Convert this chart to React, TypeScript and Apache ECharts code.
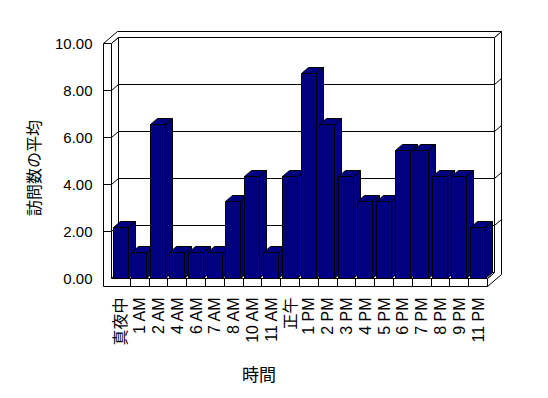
import React, { useEffect, useRef } from "react";
import * as echarts from "echarts";

const categories = [
  "真夜中", "1 AM", "2 AM", "4 AM", "6 AM", "7 AM", "8 AM", "10 AM", "11 AM", "正午",
  "1 PM", "2 PM", "3 PM", "4 PM", "5 PM", "6 PM", "7 PM", "8 PM", "9 PM", "11 PM",
];
const averageVisits = [
  2.18, 1.09, 6.55, 1.09, 1.09, 1.09, 3.27, 4.36, 1.09, 4.36,
  8.73, 6.55, 4.36, 3.27, 3.27, 5.45, 5.45, 4.36, 4.36, 2.18,
];
const yTicks = [0, 2, 4, 6, 8, 10];
const yTitle = "訪問数の平均";
const xTitle = "時間";

const DX = 7;
const DY = -6;
const WALL = 8;
const FLOOR = 8;
const BAR_COLOR = "#000080";
const FONT = "'Liberation Sans', Arial, 'Noto Sans CJK JP', sans-serif";

const s = (v: number) => Math.round(v - 0.5) + 0.5;
const sp = (pts: number[][]) => pts.map(([x, y]) => [s(x), s(y)]);

export default function App() {
  const ref = useRef<HTMLDivElement>(null);
  useEffect(() => {
    if (!ref.current) return;
    const chart = echarts.init(ref.current, null, { renderer: "svg" });
    const yMin = yTicks[0];
    const yMax = yTicks[yTicks.length - 1];
    const edge = { stroke: "#000", lineWidth: 1 };

    const frameRender = (params: any, api: any) => {
      const n = categories.length;
      const bw = api.size([1, 0])[0];
      const L = api.coord([0, yMin])[0] - bw / 2;
      const R = api.coord([n - 1, yMin])[0] + bw / 2;
      const Y0 = api.coord([0, yMin])[1];
      const Y10 = api.coord([0, yMax])[1];
      const poly = (pts: number[][], fill = "#fff") => ({
        type: "polygon",
        shape: { points: sp(pts) },
        style: { fill, ...edge },
      });
      const line = (x1: number, y1: number, x2: number, y2: number) => ({
        type: "line",
        shape: { x1: s(x1), y1: s(y1), x2: s(x2), y2: s(y2) },
        style: { ...edge, fill: null },
      });
      const children: any[] = [];
      children.push(poly([[L + DX, Y10 + DY], [R + DX, Y10 + DY], [R + DX, Y0 + DY], [L + DX, Y0 + DY]]));
      children.push(
        poly([
          [R + DX, Y10 + DY],
          [R + 2 * DX, Y10 + 2 * DY],
          [R + 2 * DX, Y0 + FLOOR + 2 * DY],
          [R, Y0 + FLOOR],
          [R, Y0],
          [R + DX, Y0 + DY],
        ])
      );
      children.push(
        poly([
          [L - WALL, Y10],
          [L - WALL + 2 * DX, Y10 + 2 * DY],
          [R + 2 * DX, Y10 + 2 * DY],
          [R + DX, Y10 + DY],
          [L + DX, Y10 + DY],
          [L, Y10],
        ])
      );
      children.push(poly([[L, Y10], [L + DX, Y10 + DY], [L + DX, Y0 + DY], [L, Y0]]));
      children.push(poly([[L, Y0], [R, Y0], [R + DX, Y0 + DY], [L + DX, Y0 + DY]]));
      children.push(
        poly([
          [L - WALL, Y10],
          [L, Y10],
          [L, Y0],
          [R, Y0],
          [R, Y0 + FLOOR],
          [L - WALL, Y0 + FLOOR],
        ])
      );
      yTicks.forEach((t) => {
        if (t === yMin || t === yMax) return;
        const y = api.coord([0, t])[1];
        children.push(line(L + DX, y + DY, R + DX, y + DY));
        children.push(line(R + DX, y + DY, R + 2 * DX, y + 2 * DY));
        children.push(line(L, y, L + DX, y + DY));
        children.push(line(L - WALL, y, L, y));
      });
      for (let i = 0; i < n - 1; i++) {
        const x = api.coord([i, yMin])[0] + bw / 2;
        children.push(line(x, Y0, x, Y0 + FLOOR));
      }
      return { type: "group", children };
    };

    const barRender = (params: any, api: any) => {
      const idx = api.value(0);
      const top = api.coord([idx, api.value(1)]);
      const base = api.coord([idx, yMin]);
      const bw = api.size([1, 0])[0];
      const x0 = top[0] - bw / 2 + bw * 0.08;
      const x1 = x0 + bw * 0.8;
      const yt = top[1];
      const yb = base[1];
      const st = { fill: BAR_COLOR, ...edge };
      return {
        type: "group",
        children: [
          { type: "polygon", shape: { points: sp([[x1, yt], [x1 + DX, yt + DY], [x1 + DX, yb + DY], [x1, yb]]) }, style: st },
          { type: "polygon", shape: { points: sp([[x0, yt], [x1, yt], [x1 + DX, yt + DY], [x0 + DX, yt + DY]]) }, style: st },
          { type: "polygon", shape: { points: sp([[x0, yt], [x1, yt], [x1, yb], [x0, yb]]) }, style: st },
        ],
      };
    };

    chart.setOption({
      animation: false,
      backgroundColor: "#fff",
      grid: { left: 111.5, right: 60.5, top: 43.5, bottom: 119.5 },
      xAxis: {
        type: "category",
        data: categories,
        axisLine: { show: false },
        axisTick: { show: false },
        splitLine: { show: false },
        axisLabel: {
          rotate: 90,
          interval: 0,
          margin: 19,
          color: "#000",
          fontSize: 16,
          fontFamily: FONT,
        },
      },
      yAxis: {
        type: "value",
        min: yMin,
        max: yMax,
        interval: 2,
        axisLine: { show: false },
        axisTick: { show: false },
        splitLine: { show: false },
        axisLabel: {
          margin: 19,
          color: "#000",
          fontSize: 15,
          fontFamily: FONT,
          formatter: (v: number) => v.toFixed(2),
        },
      },
      graphic: [
        {
          type: "text",
          x: 259,
          y: 375,
          style: { text: xTitle, fontSize: 17, fontFamily: FONT, fill: "#000", align: "center", verticalAlign: "middle" },
        },
        {
          type: "text",
          x: 34,
          y: 168,
          rotation: Math.PI / 2,
          style: { text: yTitle, fontSize: 16, fontFamily: FONT, fill: "#000", align: "center", verticalAlign: "middle" },
        },
      ],
      series: [
        {
          type: "custom",
          z: 1,
          silent: true,
          renderItem: frameRender,
          data: [[0, 0]],
          encode: { x: 0, y: 1 },
        },
        {
          type: "custom",
          z: 2,
          renderItem: barRender,
          data: averageVisits.map((v, i) => [i, v]),
          encode: { x: 0, y: 1 },
        },
      ],
    });
    return () => chart.dispose();
  }, []);
  return <div ref={ref} style={{ position: "absolute", left: 0, top: 0, width: 548, height: 398 }} />;
}
